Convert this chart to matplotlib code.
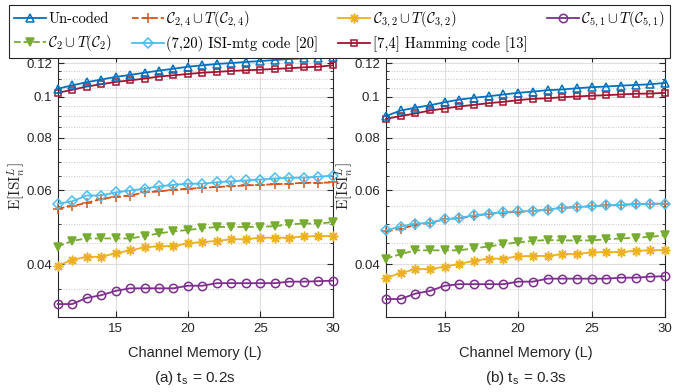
import matplotlib
matplotlib.use("Agg")
import matplotlib.pyplot as plt
from matplotlib.ticker import FixedLocator, FuncFormatter, NullFormatter

plt.rcParams['font.family'] = ['Liberation Sans', 'DejaVu Sans']
plt.rcParams['mathtext.fontset'] = 'cm'

# Memoria del canal
L = list(range(11, 31))

# (a) t_s = 0.2s
uncoded_a = [0.1045, 0.1065, 0.1083, 0.1099, 0.1115, 0.1127, 0.1141, 0.1154, 0.1166, 0.1179,
             0.1188, 0.1197, 0.1203, 0.1210, 0.1216, 0.1223, 0.1230, 0.1234, 0.1239, 0.1245]
hamming_a = [0.1022, 0.1039, 0.1058, 0.1071, 0.1085, 0.1094, 0.1105, 0.1117, 0.1125, 0.1133,
             0.1141, 0.1146, 0.1152, 0.1156, 0.1160, 0.1165, 0.1169, 0.1175, 0.1179, 0.1188]
isi_a = [0.0557, 0.0565, 0.0583, 0.0583, 0.0593, 0.0599, 0.0605, 0.0613, 0.0618, 0.0622,
         0.0622, 0.0627, 0.0630, 0.0633, 0.0636, 0.0640, 0.0642, 0.0643, 0.0646, 0.0650]
c24_a = [0.0543, 0.0550, 0.0560, 0.0572, 0.0579, 0.0583, 0.0593, 0.0596, 0.0602, 0.0605,
         0.0608, 0.0611, 0.0613, 0.0616, 0.0618, 0.0620, 0.0622, 0.0625, 0.0625, 0.0626]
c2_a = [0.0441, 0.0455, 0.0461, 0.0461, 0.0461, 0.0461, 0.0467, 0.0474, 0.0479, 0.0483,
        0.0487, 0.0491, 0.0491, 0.0491, 0.0491, 0.0493, 0.0498, 0.0500, 0.0500, 0.0504]
c32_a = [0.0397, 0.0410, 0.0417, 0.0417, 0.0425, 0.0432, 0.0439, 0.0442, 0.0442, 0.0449,
         0.0452, 0.0455, 0.0459, 0.0459, 0.0463, 0.0463, 0.0463, 0.0466, 0.0467, 0.0467]
c51_a = [0.0322, 0.0322, 0.0333, 0.0338, 0.0346, 0.0351, 0.0351, 0.0351, 0.0351, 0.0356,
         0.0356, 0.0361, 0.0361, 0.0361, 0.0361, 0.0361, 0.0364, 0.0364, 0.0365, 0.0366]

# (b) t_s = 0.3s
uncoded_b = [0.0900, 0.0928, 0.0942, 0.0955, 0.0971, 0.0985, 0.0995, 0.1003, 0.1013, 0.1022,
             0.1029, 0.1037, 0.1041, 0.1048, 0.1054, 0.1058, 0.1063, 0.1067, 0.1071, 0.1079]
hamming_b = [0.0887, 0.0900, 0.0913, 0.0928, 0.0938, 0.0949, 0.0957, 0.0966, 0.0973, 0.0982,
             0.0989, 0.0992, 0.0998, 0.1002, 0.1006, 0.1009, 0.1013, 0.1017, 0.1018, 0.1022]
isi_b = [0.0482, 0.0492, 0.0500, 0.0502, 0.0512, 0.0516, 0.0523, 0.0528, 0.0532, 0.0535,
         0.0535, 0.0540, 0.0545, 0.0547, 0.0550, 0.0552, 0.0554, 0.0556, 0.0557, 0.0558]
c24_b = [0.0479, 0.0486, 0.0496, 0.0502, 0.0512, 0.0515, 0.0521, 0.0528, 0.0531, 0.0533,
         0.0535, 0.0540, 0.0545, 0.0547, 0.0550, 0.0552, 0.0554, 0.0556, 0.0557, 0.0558]
c2_b = [0.0413, 0.0423, 0.0432, 0.0432, 0.0432, 0.0432, 0.0437, 0.0441, 0.0447, 0.0451,
        0.0455, 0.0457, 0.0456, 0.0456, 0.0456, 0.0459, 0.0461, 0.0463, 0.0465, 0.0469]
c32_b = [0.0372, 0.0381, 0.0390, 0.0390, 0.0395, 0.0401, 0.0408, 0.0413, 0.0413, 0.0418,
         0.0419, 0.0419, 0.0423, 0.0424, 0.0427, 0.0428, 0.0428, 0.0431, 0.0432, 0.0433]
c51_b = [0.0331, 0.0331, 0.0341, 0.0346, 0.0356, 0.0359, 0.0359, 0.0359, 0.0359, 0.0364,
         0.0364, 0.0370, 0.0370, 0.0370, 0.0370, 0.0370, 0.0372, 0.0372, 0.0374, 0.0375]

y_ticks = [0.04, 0.06, 0.08, 0.1, 0.12]
y_minor = [0.03, 0.035, 0.045, 0.05, 0.055, 0.065, 0.07, 0.075, 0.085, 0.09, 0.095, 0.105, 0.11, 0.115, 0.125]
x_ticks = [15, 20, 25, 30]
captions = ['(a) t$_\\mathregular{s}$ = 0.2s', '(b) t$_\\mathregular{s}$ = 0.3s']

# etiqueta, color, linea, marcador, relleno, tamaño
estilos = {
    'uncoded': ('Un-coded', '#0072BD', '-', '^', 'none', 6),
    'c24': (r'$\mathcal{C}_{2,4}\cup T(\mathcal{C}_{2,4})$', '#D95319', '--', '+', 'none', 7),
    'c32': (r'$\mathcal{C}_{3,2}\cup T(\mathcal{C}_{3,2})$', '#EDB120', '-', (8, 2, 0), 'none', 7),
    'c51': (r'$\mathcal{C}_{5,1}\cup T(\mathcal{C}_{5,1})$', '#7E2F8E', '-', 'o', 'none', 6),
    'c2': (r'$\mathcal{C}_{2}\cup T(\mathcal{C}_{2})$', '#77AC30', '--', 'v', '#77AC30', 6),
    'isi': ('(7,20) ISI-mtg code [20]', '#4DBEEE', '-', 'D', 'none', 5),
    'hamming': ('[7,4] Hamming code [13]', '#A2142F', '-', 's', 'none', 5),
}

datos = [
    {'uncoded': uncoded_a, 'hamming': hamming_a, 'isi': isi_a, 'c24': c24_a,
     'c2': c2_a, 'c32': c32_a, 'c51': c51_a},
    {'uncoded': uncoded_b, 'hamming': hamming_b, 'isi': isi_b, 'c24': c24_b,
     'c2': c2_b, 'c32': c32_b, 'c51': c51_b},
]
orden = ['c51', 'c32', 'c2', 'c24', 'isi', 'hamming', 'uncoded']

fig = plt.figure(figsize=(6.78, 3.92), dpi=100)
posiciones = [[0.0851, 0.1913, 0.4056, 0.6658], [0.5693, 0.1913, 0.4115, 0.6658]]

handles = {}
for i, pos in enumerate(posiciones):
    ax = fig.add_axes(pos)
    for clave in orden:
        etiqueta, color, ls, mk, mfc, ms = estilos[clave]
        h, = ax.plot(L, datos[i][clave], linestyle=ls, color=color, marker=mk,
                     markerfacecolor=mfc, markersize=ms, markeredgewidth=1.1,
                     linewidth=1.3, label=etiqueta, clip_on=False, zorder=3)
        handles[clave] = h

    ax.set_yscale('log')
    ax.set_xlim(11, 30)
    ax.set_ylim(0.03, 0.125)
    ax.yaxis.set_major_locator(FixedLocator(y_ticks))
    ax.yaxis.set_major_formatter(FuncFormatter(lambda v, p: '%g' % v))
    ax.yaxis.set_minor_locator(FixedLocator(y_minor))
    ax.yaxis.set_minor_formatter(NullFormatter())
    ax.set_xticks(x_ticks)

    ax.grid(True, which='major', color='#dedede', linewidth=0.8, linestyle='-')
    ax.grid(True, which='minor', axis='y', color='#c4c4c4', linewidth=0.7, linestyle=':')
    ax.set_axisbelow(True)
    ax.tick_params(which='both', direction='in', top=True, right=True,
                   labelsize=9.5, colors='#262626', pad=4)
    ax.tick_params(which='major', length=4)
    ax.tick_params(which='minor', length=2)
    for s in ax.spines.values():
        s.set_color('#262626')
        s.set_linewidth(0.8)

    ax.set_xlabel('Channel Memory (L)', fontsize=10.5, color='#262626')
    ax.xaxis.set_label_coords(0.5, -0.11)
    ax.set_ylabel(r'$\mathrm{E}[\mathrm{ISI}_n^L]$', fontsize=11, color='#262626')
    ax.yaxis.set_label_coords(-0.11, 0.5)

    fig.text(pos[0] + pos[2] / 2, 1 - 378 / 392, captions[i], ha='center', va='center',
             fontsize=11, color='#262626')

# Leyenda comun en la parte superior (dos filas)
orden_leyenda = ['uncoded', 'c2', 'c24', 'isi', 'c32', 'hamming', 'c51']
leg = fig.legend([handles[k] for k in orden_leyenda],
                 [estilos[k][0] for k in orden_leyenda],
                 ncol=4, loc='upper left', mode='expand',
                 bbox_to_anchor=(0.013, 0.8724, 0.975, 0.1156), borderaxespad=0,
                 prop={'family': 'cmr10', 'size': 10.5}, handlelength=2.2,
                 handletextpad=0.15, labelspacing=0.45, borderpad=0.35,
                 fancybox=False, framealpha=1, edgecolor='#262626')
leg.get_frame().set_linewidth(0.8)

fig.savefig('out.png', dpi=100)
